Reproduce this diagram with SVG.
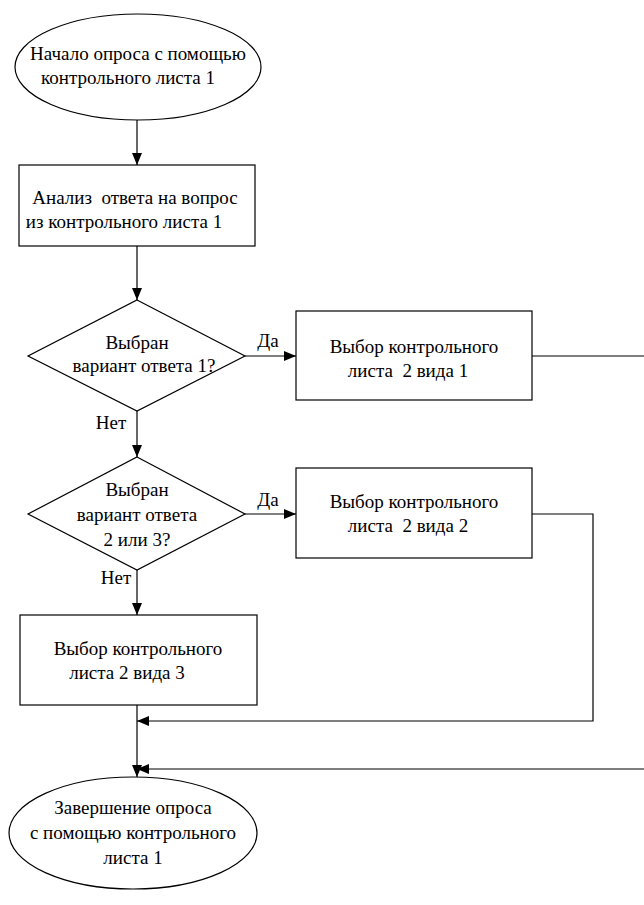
<svg xmlns="http://www.w3.org/2000/svg" width="644" height="905" viewBox="0 0 644 905">
  <style>
    .shape { fill: #ffffff; stroke: #000000; stroke-width: 1.2; }
    .line { fill: none; stroke: #000000; stroke-width: 1.2; }
    text { font-family: "Liberation Serif", "Times New Roman", serif; font-size: 19px; fill: #000000; }
    .c { text-anchor: middle; }
  </style>
  <defs>
    <marker id="arrow" markerWidth="12" markerHeight="10" refX="12" refY="5" orient="auto" markerUnits="userSpaceOnUse">
      <path d="M0,0 L12,5 L0,10 Z" fill="#000000"/>
    </marker>
  </defs>

  <rect width="644" height="905" fill="#ffffff"/>

  <g id="connectors">
    <line class="line" x1="137" y1="120" x2="137" y2="165" marker-end="url(#arrow)"/>
    <line class="line" x1="137" y1="246" x2="137" y2="300" marker-end="url(#arrow)"/>
    <line class="line" x1="245" y1="356" x2="296" y2="356" marker-end="url(#arrow)"/>
    <line class="line" x1="137" y1="411" x2="137" y2="457" marker-end="url(#arrow)"/>
    <line class="line" x1="245" y1="514" x2="296" y2="514" marker-end="url(#arrow)"/>
    <line class="line" x1="137" y1="570" x2="137" y2="615" marker-end="url(#arrow)"/>
    <polyline class="line" points="532,356 644,356"/>
    <polyline class="line" points="532,514 593,514 593,721 137,721" marker-end="url(#arrow)"/>
    <polyline class="line" points="644,769 137,769" marker-end="url(#arrow)"/>
    <line class="line" x1="137" y1="705" x2="137" y2="777" marker-end="url(#arrow)"/>
    <text x="268" y="347" class="c">Да</text>
    <text x="268" y="506" class="c">Да</text>
    <text x="111" y="429" class="c">Нет</text>
    <text x="116" y="584" class="c">Нет</text>
  </g>

  <g id="start">
    <ellipse class="shape" cx="138" cy="67" rx="123" ry="53"/>
    <text x="138" y="60" class="c">Начало опроса с помощью</text>
    <text x="128" y="84" class="c">контрольного листа 1</text>
  </g>

  <g id="analyze">
    <rect class="shape" x="19" y="165" width="236" height="81"/>
    <text x="135" y="204" class="c" xml:space="preserve">Анализ  ответа на вопрос</text>
    <text x="124" y="228" class="c">из контрольного листа 1</text>
  </g>

  <g id="decision1">
    <polygon class="shape" points="137,300 245,356 137,411 28,356"/>
    <text x="137" y="349" class="c">Выбран</text>
    <text x="144" y="372" class="c">вариант ответа 1?</text>
  </g>

  <g id="choice1">
    <rect class="shape" x="296" y="311" width="236" height="89"/>
    <text x="414" y="353" class="c">Выбор контрольного</text>
    <text x="408" y="377" class="c" xml:space="preserve">листа  2 вида 1</text>
  </g>

  <g id="decision2">
    <polygon class="shape" points="137,457 245,514 137,570 28,514"/>
    <text x="137" y="496" class="c">Выбран</text>
    <text x="137" y="521" class="c">вариант ответа</text>
    <text x="137" y="546" class="c">2 или 3?</text>
  </g>

  <g id="choice2">
    <rect class="shape" x="296" y="468" width="236" height="90"/>
    <text x="414" y="508" class="c">Выбор контрольного</text>
    <text x="408" y="532" class="c" xml:space="preserve">листа  2 вида 2</text>
  </g>

  <g id="choice3">
    <rect class="shape" x="20" y="615" width="237" height="90"/>
    <text x="138" y="655" class="c">Выбор контрольного</text>
    <text x="127" y="679" class="c">листа 2 вида 3</text>
  </g>

  <g id="end">
    <ellipse class="shape" cx="133" cy="833" rx="124" ry="56"/>
    <text x="133" y="814" class="c">Завершение опроса</text>
    <text x="133" y="839" class="c">с помощью контрольного</text>
    <text x="133" y="864" class="c">листа 1</text>
  </g>
</svg>
